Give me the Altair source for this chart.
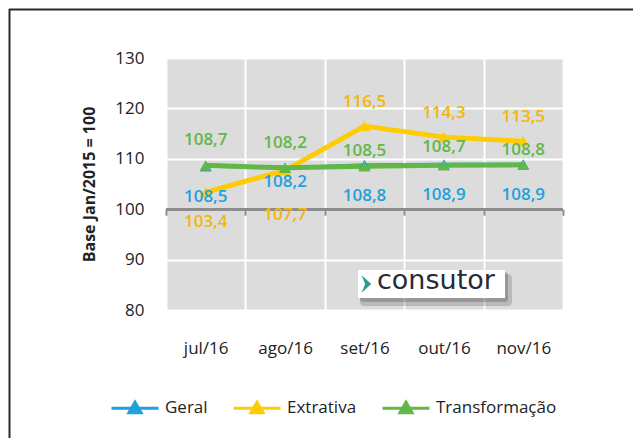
import altair as alt
import pandas as pd

# ---- data ----
months = ["jul/16", "ago/16", "set/16", "out/16", "nov/16"]
geral = [108.5, 108.2, 108.8, 108.9, 108.9]
extrativa = [103.4, 107.7, 116.5, 114.3, 113.5]
transformacao = [108.7, 108.2, 108.5, 108.7, 108.8]
series_names = ["Geral", "Extrativa", "Transformação"]
series_colors = ["#1ea1dc", "#ffcb05", "#62b846"]
series_widths = [3, 5, 5]
label_colors = {"Geral": "#1ea1dc", "Extrativa": "#f2b705", "Transformação": "#62b846"}
y_ticks = [80, 90, 100, 110, 120, 130]
y_title = "Base Jan/2015 = 100"
logo_text = "consutor"

FONT = "Open Sans"
W, H = 397, 252

rows = []
for name, vals in zip(series_names, [geral, extrativa, transformacao]):
    for m, v in zip(months, vals):
        rows.append({"month": m, "series": name, "value": v,
                     "label": f"{v:.1f}".replace(".", ",")})
df = pd.DataFrame(rows)
axis_df = pd.DataFrame({"month": months, "value": [100] * len(months)})
one = pd.DataFrame({"a": [0]})

xscale = alt.Scale(type="band", domain=months, paddingInner=0, paddingOuter=0)
yscale = alt.Scale(domain=[80, 130], nice=False, zero=False)

main_x_axis = alt.Axis(orient="bottom", tickBand="extent", grid=True, gridColor="white",
                       gridWidth=2, domain=False, ticks=False, labelPadding=30, labelAngle=0,
                       labelFont=FONT, labelFontSize=17, labelColor="#222222", title=None)
tick_x_axis = alt.Axis(orient="bottom", tickBand="extent", grid=False, domain=False, ticks=True,
                       tickColor="#8c8c8c", tickWidth=2, tickSize=6, labels=False, title=None,
                       offset=-H * 20 / 50)
y_axis = alt.Axis(values=y_ticks, grid=True, gridColor="white", gridWidth=2, domain=False,
                  ticks=False, labelPadding=22, labelFont=FONT, labelFontSize=17,
                  labelColor="#222222", title=y_title, titleFont=FONT, titleFontSize=16,
                  titleFontWeight="bold", titleColor="#222222", titlePadding=17)

def X(axis=None):
    return alt.X("month:N", sort=months, scale=xscale, axis=axis, bandPosition=0.5)

Y = alt.Y("value:Q", scale=yscale, axis=y_axis)

color_scale = alt.Scale(domain=series_names, range=series_colors)
legend = alt.Legend(
    orient="none", direction="horizontal", legendX=-56, legendY=325, title=None,
    symbolType="M-1,0H1M-0.26,0.2L0,-0.25L0.26,0.2Z", symbolSize=2209, symbolStrokeWidth=3,
    symbolOpacity=1,
    labelFont=FONT, labelFontSize=17, labelColor="#222222", labelOffset=5, columnPadding=19,
    padding=0,
)

base = alt.Chart(df)

grid_carrier = alt.Chart(axis_df).mark_point(opacity=0).encode(x=X(main_x_axis), y=Y)
tick_carrier = alt.Chart(axis_df).mark_point(opacity=0).encode(x=X(tick_x_axis), y=Y)
zero_line = alt.Chart(axis_df).mark_rule(color="#8c8c8c", strokeWidth=2.5).encode(
    x=alt.value(0), x2=alt.value(W), y=Y)

# invisible line layer that carries the legend
legend_lines = base.mark_line(opacity=0, strokeWidth=3).encode(
    x=X(), y=Y,
    color=alt.Color("series:N", scale=color_scale, sort=series_names, legend=legend))

def series_line(name, width):
    return (base.transform_filter(alt.datum.series == name)
            .mark_line(strokeWidth=width)
            .encode(x=X(), y=Y,
                    color=alt.Color("series:N", scale=color_scale, sort=series_names,
                                    legend=None)))

line_layers = [series_line(n, w) for n, w in zip(series_names, series_widths)]

points = base.mark_point(shape="triangle-up", filled=True, size=140, opacity=1).encode(
    x=X(), y=Y,
    color=alt.Color("series:N", scale=color_scale, sort=series_names, legend=legend))

def labels(series, subset, dy):
    return (alt.Chart(df)
            .transform_filter(alt.datum.series == series)
            .transform_filter(alt.FieldOneOfPredicate(field="month", oneOf=subset))
            .mark_text(dy=dy, font=FONT, fontSize=17, fontWeight=600, baseline="middle",
                       color=label_colors[series])
            .encode(x=X(), y=Y, text="label:N"))

label_layers = [
    labels("Geral", ["jul/16", "set/16", "out/16", "nov/16"], 31),
    labels("Geral", ["ago/16"], 14),
    labels("Transformação", ["jul/16", "ago/16"], -25),
    labels("Transformação", ["out/16"], -18),
    labels("Transformação", ["set/16", "nov/16"], -15),
    labels("Extrativa", ["jul/16"], 30),
    labels("Extrativa", ["ago/16"], 45),
    labels("Extrativa", ["set/16", "out/16", "nov/16"], -24),
]

# logo box (decoration)
logo_shadow1 = alt.Chart(one).mark_rect(color="#555555", opacity=0.25, cornerRadius=4).encode(
    x=alt.value(194), x2=alt.value(346), y=alt.value(216), y2=alt.value(248))
logo_shadow2 = alt.Chart(one).mark_rect(color="#555555", opacity=0.35, cornerRadius=3).encode(
    x=alt.value(194), x2=alt.value(342), y=alt.value(214), y2=alt.value(244))
logo_box = alt.Chart(one).mark_rect(color="white").encode(
    x=alt.value(192), x2=alt.value(339), y=alt.value(212), y2=alt.value(240))
logo_icon = alt.Chart(one).mark_point(shape="M-0.5,-1L0.6,0L-0.5,1L-0.1,0Z", filled=True,
                                      color="#2a9d8f", size=300, opacity=1).encode(
    x=alt.value(200), y=alt.value(226))
logo = alt.Chart(one).mark_text(text=logo_text, font="DejaVu Sans", fontSize=27,
                                align="left", baseline="middle", color="#262a36").encode(
    x=alt.value(211), y=alt.value(223))

# outer frame lines (decoration)
frame_top = alt.Chart(one).mark_rule(color="#2a2a2a", strokeWidth=2).encode(
    x=alt.value(-157), x2=alt.value(W + 70), y=alt.value(-48.5))
frame_left = alt.Chart(one).mark_rule(color="#2a2a2a", strokeWidth=2).encode(
    x=alt.value(-156.5), y=alt.value(-49), y2=alt.value(H + 130))

chart = alt.layer(
    frame_top, frame_left, grid_carrier, tick_carrier, zero_line, legend_lines,
    *line_layers, points, *label_layers, logo_shadow1, logo_shadow2, logo_box, logo_icon, logo,
).resolve_axis(x="independent").properties(
    width=W, height=H,
    autosize=alt.AutoSizeParams(type="none"),
    padding={"left": 158, "top": 50, "right": 70, "bottom": 128},
    background="white",
).configure_view(fill="#dcdcdd", stroke=None)

chart.save("out.html", embed_options={"renderer": "svg", "actions": False})
